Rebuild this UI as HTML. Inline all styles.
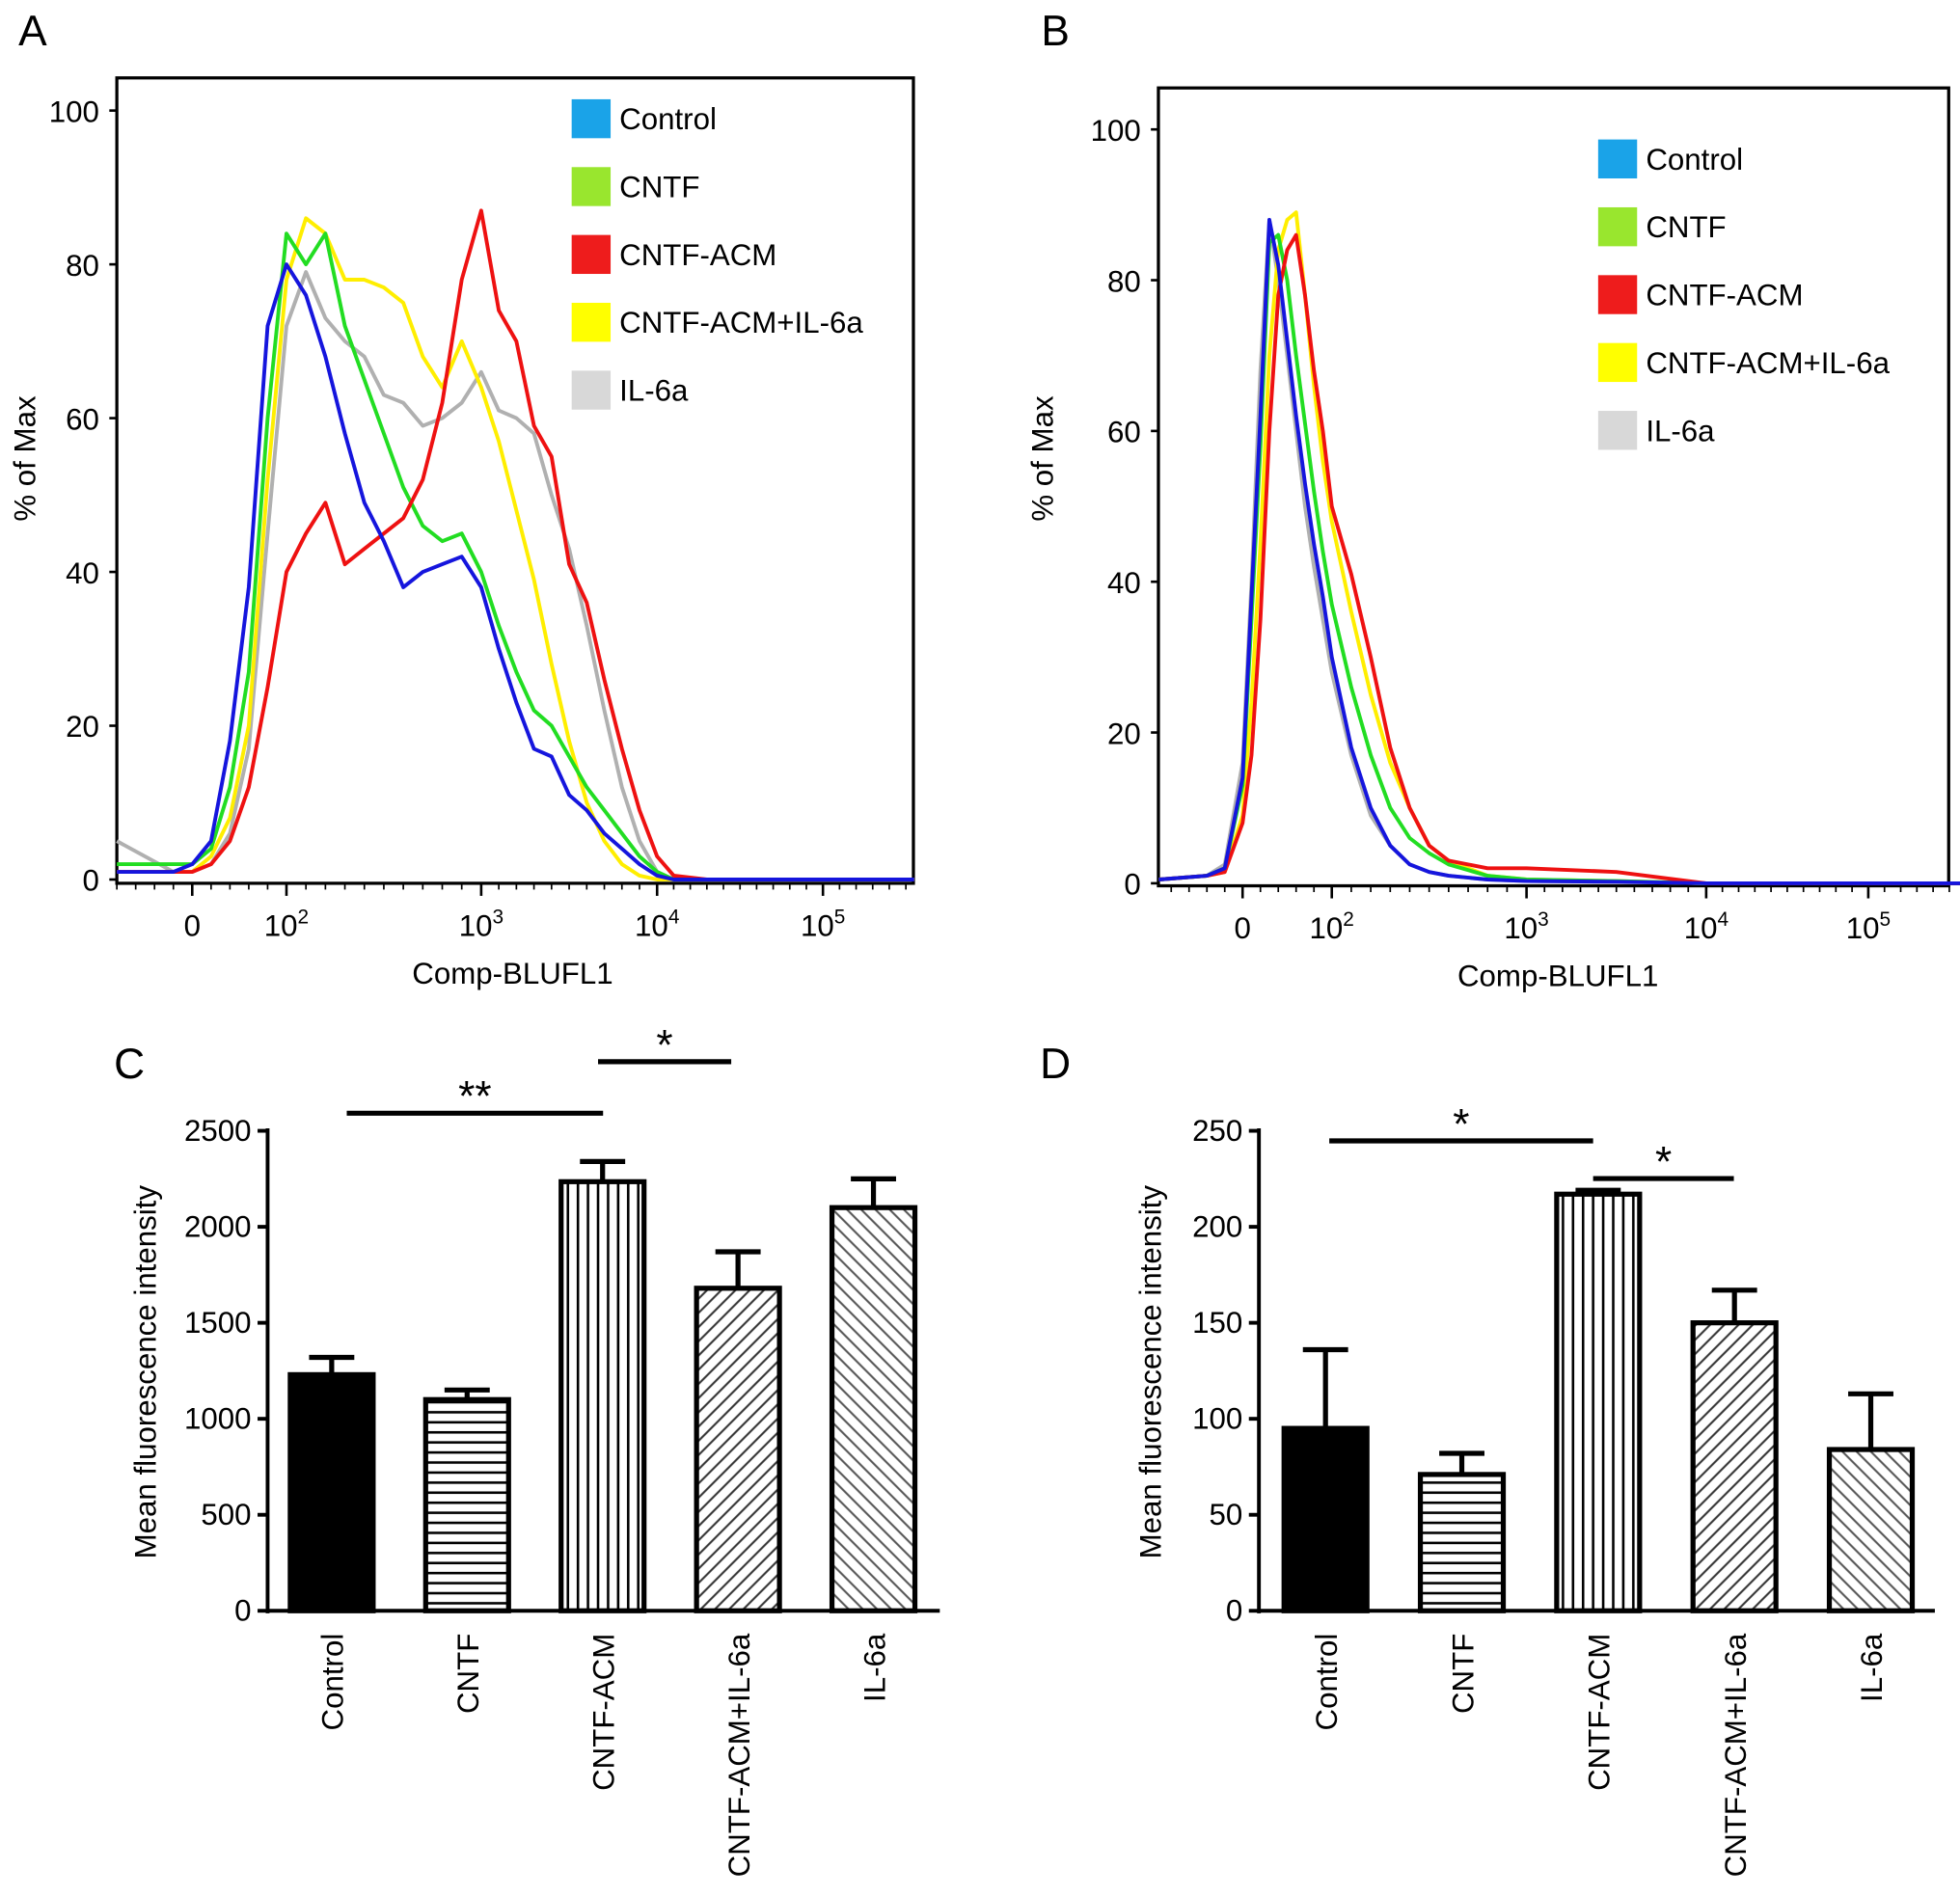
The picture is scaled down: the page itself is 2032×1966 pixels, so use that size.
<!DOCTYPE html>
<html><head><meta charset="utf-8"><style>
html,body{margin:0;padding:0;background:#fff}
svg{display:block;font-family:"Liberation Sans",sans-serif}
</style></head><body>
<svg id="fig" width="2032" height="1966" viewBox="0 0 1560 1509" preserveAspectRatio="none" xmlns="http://www.w3.org/2000/svg">
<defs>
<pattern id="pH" width="8" height="8" patternUnits="userSpaceOnUse"><rect width="8" height="8" fill="#fff"/><line x1="0" y1="4" x2="8" y2="4" stroke="#000" stroke-width="2"/></pattern>
<pattern id="pV" width="8" height="8" patternUnits="userSpaceOnUse"><rect width="8" height="8" fill="#fff"/><line x1="4" y1="0" x2="4" y2="8" stroke="#000" stroke-width="2"/></pattern>
<pattern id="pF" width="8" height="8" patternUnits="userSpaceOnUse" patternTransform="rotate(45)"><rect width="8" height="8" fill="#fff"/><line x1="4" y1="0" x2="4" y2="8" stroke="#333" stroke-width="1.6"/></pattern>
<pattern id="pB" width="8" height="8" patternUnits="userSpaceOnUse" patternTransform="rotate(-45)"><rect width="8" height="8" fill="#fff"/><line x1="4" y1="0" x2="4" y2="8" stroke="#555" stroke-width="1.6"/></pattern>
</defs>
<g id="root"></g>
</svg>
<script>
// ---------- Panel A data (x in decade units, y in % of max) ----------
const gridA = [1.1,1.4,1.5,1.6,1.7,1.8,1.9,2.0,2.1,2.2,2.3,2.4,2.5,2.6,2.7,2.8,2.9,3.0,3.1,3.2,3.3,3.4,3.5,3.6,3.7,3.8,3.9,4.0,4.1,4.3,5.55];
const aControl = [1,1,2,5,18,38,72,80,76,68,58,49,44,38,40,41,42,38,30,23,17,16,11,9,6,4,2,0.5,0,0,0];
const aCNTF = [2,2,2,4,12,27,60,84,80,84,72,65,58,51,46,44,45,40,33,27,22,20,16,12,9,6,3,1,0,0,0];
const aACM = [1,1,1,2,5,12,25,40,45,49,41,43,45,47,52,62,78,87,74,70,59,55,41,36,26,17,9,3,0.5,0,0];
const aACMIL = [1,1,1,3,8,20,52,78,86,84,78,78,77,75,68,64,70,64,57,48,39,28,18,10,5,2,0.5,0,0,0,0];
const aIL = [5,1,1,2,6,17,45,72,79,73,70,68,63,62,59,60,62,66,61,60,58,50,43,33,22,12,5,1,0,0,0];
// ---------- Panel B data ----------
const gridB = [1.03,1.3,1.4,1.5,1.55,1.6,1.65,1.7,1.75,1.8,1.85,1.9,1.95,2.0,2.1,2.2,2.3,2.4,2.5,2.6,2.8,3.0,3.5,4.0,5.6];
const bControl = [0.5,1,2,14,38,62,88,82,72,62,53,45,38,30,18,10,5,2.5,1.5,1,0.5,0.3,0.2,0,0];
const bCNTF = [0.5,1,2,13,35,58,85,86,80,70,61,52,44,37,26,17,10,6,4,2.5,1,0.5,0.3,0,0];
const bACM = [0.5,1,1.5,8,17,35,60,78,84,86,78,68,60,50,41,30,18,10,5,3,2,2,1.5,0,0];
const bACMIL = [0.5,1,1.5,9,24,45,70,84,88,89,78,66,56,48,36,25,16,10,5,3,1,0.5,0.3,0,0];
const bIL = [0.5,1,2.5,16,40,68,88,80,70,60,50,42,35,28,17,9,5,2.5,1.5,1,0.5,0.3,0.2,0,0];
// ---------- Bar data ----------
const categories = ["Control","CNTF","CNTF-ACM","CNTF-ACM+IL-6a","IL-6a"];
const cMeans = [1230,1100,2235,1680,2100];
const cErrors = [90,50,105,190,150];
const cTicks = [0,500,1000,1500,2000,2500];
const dMeans = [95,71,217,150,84];
const dErrors = [41,11,2,17,29];
const dTicks = [0,50,100,150,200,250];
const flowTickVals = [1.5,2,3,4,5];
const flowTickLabels = ["0","2","3","4","5"];
const legendLabels = ["Control","CNTF","CNTF-ACM","CNTF-ACM+IL-6a","IL-6a"];
const legendColors = ["#1aa3e8","#99e62e","#ee1c1c","#ffff00","#d8d8d8"];

const NS="http://www.w3.org/2000/svg";
const root=document.getElementById('root');
function mk(tag,attrs,parent){const e=document.createElementNS(NS,tag);for(const k in attrs)e.setAttribute(k,attrs[k]);(parent||root).appendChild(e);return e;}
function txt(s,attrs,parent){const e=mk('text',attrs,parent);e.textContent=s;return e;}
function piece(anch){return d=>{for(let i=0;i<anch.length-1;i++){const a=anch[i],b=anch[i+1];if(d<=b[0]||i==anch.length-2)return a[1]+(d-a[0])*(b[1]-a[1])/(b[0]-a[0]);}};}

function flowPanel(cfg){
  const g=mk('g',{});
  
  
  const xs=piece(cfg.anch);
  const ys=v=>cfg.y0-v*cfg.ppu;
  const fr=mk('rect',{x:cfg.L,y:cfg.T,width:cfg.R-cfg.L,height:cfg.B-cfg.T,fill:'none',stroke:'#000','stroke-width':2.5},g);
  
  [0,20,40,60,80,100].forEach(v=>{
    mk('line',{x1:cfg.L-6,x2:cfg.L,y1:ys(v),y2:ys(v),stroke:'#000','stroke-width':2},g);
    const t=txt(String(v),{x:cfg.L-14,y:ys(v)+9,'text-anchor':'end','font-size':24},g);
    
  });
  for(let d=1.1;d<cfg.maxD;d+=0.1){mk('line',{x1:xs(d),x2:xs(d),y1:cfg.B,y2:cfg.B+5,stroke:'#000','stroke-width':1.3},g);}
  flowTickVals.forEach((v,i)=>{
    mk('line',{x1:xs(v),x2:xs(v),y1:cfg.B,y2:cfg.B+10,stroke:'#000','stroke-width':2},g);
    const t=mk('text',{x:xs(v),y:cfg.B+42,'text-anchor':'middle','font-size':24},g);
    
    if(i==0)t.textContent='0';else{t.textContent='10';const s=mk('tspan',{dy:-10,'font-size':16},t);s.textContent=flowTickLabels[i];}
  });
  const xt=txt('Comp-BLUFL1',{x:cfg.xt,y:cfg.B+80,'text-anchor':'middle','font-size':24},g);
  
  const yt=txt('% of Max',{x:0,y:0,'text-anchor':'middle','font-size':24,transform:`translate(${cfg.ytx},${cfg.yty}) rotate(-90)`},g);
  
  const order=[[4,'#b0b0b0'],[3,'#ffee00'],[1,'#22dd22'],[2,'#ee1111'],[0,'#1515dd']];
  const names=['series-control','series-cntf','series-cntf-acm','series-cntf-acm-il6a','series-il6a'];
  order.forEach(([i,c])=>{
    const vals=cfg.series[i];
    const pts=cfg.grid.map((d,k)=>xs(d).toFixed(1)+','+ys(vals[k]).toFixed(1)).join(' ');
    const p=mk('polyline',{points:pts,fill:'none',stroke:c,'stroke-width':3,'stroke-linejoin':'round'},g);
    
  });
  legendLabels.forEach((l,i)=>{
    const y=cfg.legY+i*cfg.legDy;
    const r=mk('rect',{x:cfg.legX,y:y,width:31,height:31,fill:legendColors[i]},g);
    
    const t=txt(l,{x:cfg.legX+38,y:y+24,'font-size':24},g);
    
  });
}
flowPanel({name:'panel-a-histogram',L:93,R:727,T:62,B:703,y0:700,ppu:6.12,maxD:5.5,
  anch:[[1.0,78],[1.5,153],[2,228],[3,383],[4,523],[5,655],[6,787]],grid:gridA,
  series:[aControl,aCNTF,aACM,aACMIL,aIL],xt:408,ytx:28,yty:365,legX:455,legY:79,legDy:54});
flowPanel({name:'panel-b-histogram',L:922,R:1551,T:70,B:705,y0:703,ppu:6.0,maxD:5.5,
  anch:[[1.0,918],[1.5,989],[2,1060],[3,1215],[4,1358],[5,1487],[6,1616]],grid:gridB,
  series:[bControl,bCNTF,bACM,bACMIL,bIL],xt:1240,ytx:838,yty:365,legX:1272,legY:111,legDy:54});

function barPanel(cfg){
  const g=mk('g',{});
  
  
  const max=cfg.ticks[cfg.ticks.length-1];
  const ys=v=>cfg.B-v*(cfg.B-cfg.T)/max;
  const fills=['#000','url(#pH)','url(#pV)','url(#pF)','url(#pB)'];
  const names=['bar-control','bar-cntf','bar-cntf-acm','bar-cntf-acm-il6a','bar-il6a'];
  cfg.means.forEach((m,i)=>{
    const cx=cfg.x0+i*cfg.step;
    const top=ys(m+cfg.errs[i]);
    mk('line',{x1:cx,x2:cx,y1:ys(m),y2:top,stroke:'#000','stroke-width':4},g);
    mk('line',{x1:cx-18,x2:cx+18,y1:top,y2:top,stroke:'#000','stroke-width':4},g);
    const r=mk('rect',{x:cx-33,y:ys(m),width:66,height:cfg.B-ys(m),fill:fills[i],stroke:'#000','stroke-width':4},g);
    
    const t=txt(categories[i],{x:0,y:0,'text-anchor':'end','font-size':24,transform:`translate(${cx+9},${cfg.B+18}) rotate(-90)`},g);
    
  });
  mk('line',{x1:cfg.L,x2:cfg.L,y1:cfg.T-2,y2:cfg.B+2,stroke:'#000','stroke-width':3},g);
  mk('line',{x1:cfg.L,x2:cfg.R,y1:cfg.B,y2:cfg.B,stroke:'#000','stroke-width':3},g);
  cfg.ticks.forEach(v=>{
    mk('line',{x1:cfg.L-8,x2:cfg.L,y1:ys(v),y2:ys(v),stroke:'#000','stroke-width':3},g);
    const t=txt(String(v),{x:cfg.L-13,y:ys(v)+8,'text-anchor':'end','font-size':24},g);
    
  });
  const yt=txt('Mean fluorescence intensity',{x:0,y:0,'text-anchor':'middle','font-size':24,transform:`translate(${cfg.ytx},1092) rotate(-90)`},g);
  
  cfg.sig.forEach(s=>{
    const l=mk('line',{x1:s[0],x2:s[1],y1:s[2],y2:s[2],stroke:'#000','stroke-width':4},g);
    
    const t=txt(s[3],{x:(s[0]+s[1])/2,y:s[2]+s[4],'text-anchor':'middle','font-size':34},g);
    
  });
}
barPanel({name:'panel-c-bar-chart',L:213,R:748,T:900,B:1282,x0:264,step:107.8,means:cMeans,errs:cErrors,ticks:cTicks,ytx:124,
  sig:[[276,480,886,'**',-2],[476,582,845,'*',-2]]});
barPanel({name:'panel-d-bar-chart',L:1002,R:1540,T:900,B:1282,x0:1055,step:108.5,means:dMeans,errs:dErrors,ticks:dTicks,ytx:924,
  sig:[[1058,1268,908,'*',-2],[1268,1380,938,'*',-2]]});

[['A',26,36],['B',840,36],['C',103,858],['D',840,858]].forEach(([l,x,y])=>{
  const t=txt(l,{x:x,y:y,'text-anchor':'middle','font-size':34},root);
  
  
});
</script>
</body></html>
